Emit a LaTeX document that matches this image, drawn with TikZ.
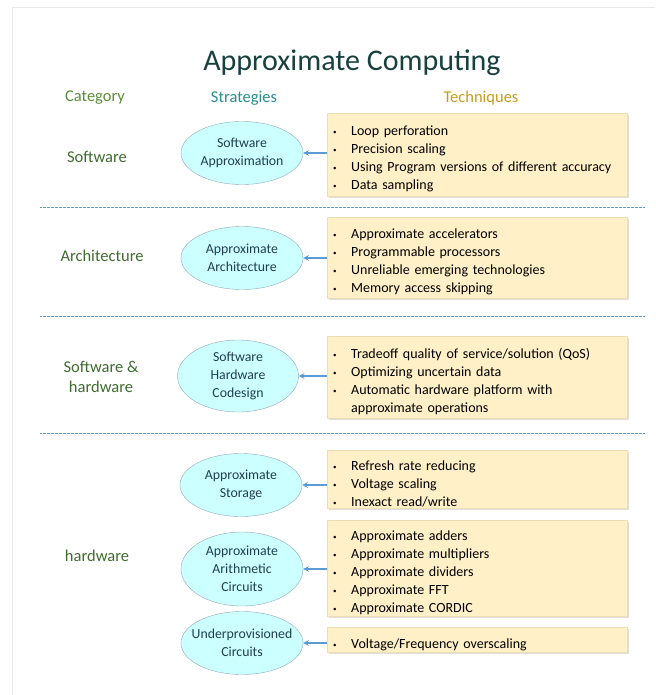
\documentclass[tikz,border=0pt]{standalone}
\usepackage{fontspec}
\setmainfont{Carlito}
\usetikzlibrary{shapes.geometric,shadows}

\definecolor{titlecol}{HTML}{17403F}
\definecolor{catcol}{HTML}{5A8A3C}
\definecolor{catlab}{HTML}{3E6B2E}
\definecolor{stratcol}{HTML}{2A8C8C}
\definecolor{techcol}{HTML}{C69C1E}
\definecolor{ellfill}{HTML}{CCFFFF}
\definecolor{elldraw}{HTML}{8FA8B4}
\definecolor{elltext}{HTML}{1F3F4F}
\definecolor{boxfill}{HTML}{FFF0C8}
\definecolor{boxdraw}{HTML}{EEDDB2}
\definecolor{linkcol}{HTML}{5B9BD5}
\definecolor{framecol}{HTML}{E6EAEE}

\newcommand\bul{\makebox[18pt][l]{\raisebox{1pt}{\scriptsize\textbullet}}}

\tikzset{
  strat/.style={ellipse, draw=elldraw, fill=ellfill, text=elltext, align=center,
    minimum width=122pt, minimum height=63pt, inner xsep=-10pt, inner ysep=-4pt,
    font=\fontsize{13.8}{18}\selectfont},
  techbox/.style={rectangle, draw=boxdraw, fill=boxfill, anchor=north west,
    drop shadow={shadow xshift=1.5pt, shadow yshift=-1.5pt, opacity=0.25},
    text width=288pt, inner xsep=6pt, inner ysep=0pt, align=left,
    font=\fontsize{14}{18}\selectfont,
    execute at begin node={\rule{0pt}{19pt}}},
  catlabel/.style={text=catlab, align=center, font=\fontsize{16.5}{20}\selectfont},
  head/.style={font=\fontsize{16.5}{18}\selectfont},
  link/.style={-stealth, line width=1.5pt, linkcol},
  sep/.style={linkcol, line width=0.9pt, dash pattern=on 1.5pt off 1pt on 0.5pt off 1pt}
}

\begin{document}
\begin{tikzpicture}[x=1pt,y=-1pt]
\useasboundingbox (0,0) rectangle (655,695);
\draw[framecol, line width=1pt] (12,695) -- (12,8) -- (655,8);

\node[text=titlecol, font=\fontsize{30}{32}\selectfont] (title) at (352,63) {Approximate Computing};
\node[head, text=catcol] (hcat) at (95,98) {Category};
\node[head, text=stratcol] (hstrat) at (244,98) {Strategies};
\node[head, text=techcol] (htech) at (481,98) {Techniques};

% categories
\node[catlabel] (csw) at (97,157) {Software};
\node[catlabel] (carch) at (102,256) {Architecture};
\node[catlabel] (cco) at (101,377) {Software \&\\hardware};
\node[catlabel] (chw) at (97,556) {hardware};

% strategies
\node[strat] (sw) at (242,153) {Software\\Approximation};
\node[strat] (arch) at (242,258) {Approximate\\Architecture};
\node[strat, minimum width=121pt, minimum height=72pt] (co) at (238,376) {Software\\Hardware\\Codesign};
\node[strat] (st) at (241,485) {Approximate\\Storage};
\node[strat, minimum height=74pt] (ar) at (242,569) {Approximate\\Arithmetic\\Circuits};
\node[strat] (up) at (242,643) {Underprovisioned\\Circuits};

% techniques
\node[techbox, minimum height=83pt] (t1) at (327,113) {\bul Loop perforation\\\bul Precision scaling\\\bul Using Program versions of different accuracy\\\bul Data sampling};
\node[techbox, minimum height=81pt] (t2) at (327,217) {\bul Approximate accelerators\\\bul Programmable processors\\\bul Unreliable emerging technologies\\\bul Memory access skipping};
\node[techbox, minimum height=82pt] (t3) at (327,336) {\bul Tradeoff quality of service/solution (QoS)\\\bul Optimizing uncertain data\\\bul Automatic hardware platform with\\\hspace*{18pt}approximate operations};
\node[techbox, minimum height=58pt] (t4) at (327,450) {\bul Refresh rate reducing\\\bul Voltage scaling\\\bul Inexact read/write};
\node[techbox, minimum height=96pt] (t5) at (327,520) {\bul Approximate adders\\\bul Approximate multipliers\\\bul Approximate dividers\\\bul Approximate FFT\\\bul Approximate CORDIC};
\node[techbox, minimum height=25pt] (t6) at (327,627) {\bul Voltage/Frequency overscaling};

% arrows
\draw[link] (sw.east -| t1.west) -- (sw.east);
\draw[link] (arch.east -| t2.west) -- (arch.east);
\draw[link] (co.east -| t3.west) -- (co.east);
\draw[link] (st.east -| t4.west) -- (st.east);
\draw[link] (ar.east -| t5.west) -- (ar.east);
\draw[link] (up.east -| t6.west) -- (up.east);

% separators
\draw[sep] (40,207) -- (645,207);
\draw[sep] (40,316) -- (645,316);
\draw[sep] (40,433) -- (645,433);
\end{tikzpicture}
\end{document}
